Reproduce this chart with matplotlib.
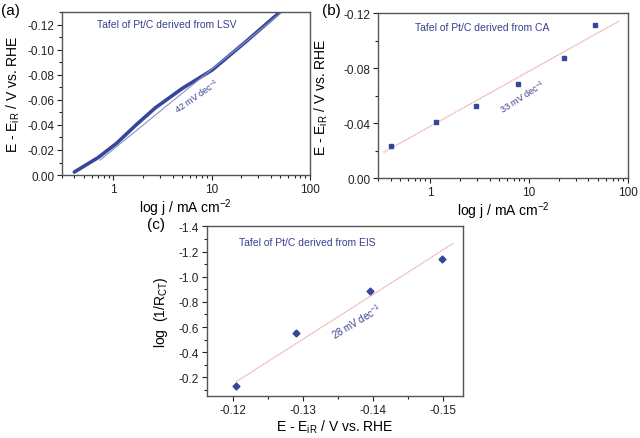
import matplotlib
matplotlib.use("Agg")
import matplotlib.pyplot as plt
from matplotlib import font_manager
from matplotlib.ticker import FixedLocator, MultipleLocator, FuncFormatter, LogLocator, NullFormatter

plt.rcParams['font.family'] = ['Liberation Sans', 'DejaVu Sans']
plt.rcParams['mathtext.fontset'] = 'custom'

names = set(f.name for f in font_manager.fontManager.ttflist)
label_font = 'Liberation Sans Narrow' if 'Liberation Sans Narrow' in names else 'Liberation Sans'
label_size = 12 if label_font == 'Liberation Sans Narrow' else 10
plt.rcParams['mathtext.rm'] = label_font
plt.rcParams['mathtext.it'] = label_font

# (a) LSV polarization curve
lsv_j = [0.40, 0.7, 1.08, 1.7, 2.68, 5.0, 10.2, 22.0, 48.0]
lsv_e = [-0.0024, -0.014, -0.0254, -0.040, -0.0537, -0.069, -0.084, -0.106, -0.129]
fit_a_j = [0.73, 53.0]
fit_a_e = [-0.0119, -0.1305]

# (b) chronoamperometry points
ca_j = [0.40, 1.14, 2.89, 7.84, 22.6, 47.1]
ca_e = [-0.0237, -0.0408, -0.0524, -0.0686, -0.0874, -0.1117]
fit_b_j = [0.34, 82.0]
fit_b_e = [-0.0188, -0.1146]

# (c) EIS points
eis_e = [-0.1204, -0.129, -0.1395, -0.1498]
eis_logr = [-0.128, -0.555, -0.883, -1.141]
fit_c_e = [-0.1204, -0.1515]
fit_c_logr = [-0.165, -1.267]

blue = '#34479a'
text_blue = '#3a3f8f'
pink = '#e6a3a3'
spine_col = '#555555'

fig = plt.figure(figsize=(6.4, 4.39), dpi=100)

def style(ax):
    for s in ax.spines.values():
        s.set_color(spine_col)
        s.set_linewidth(1.0)
    ax.tick_params(which='both', direction='out', labelsize=8.5, colors='#222222', width=0.8, pad=2)
    ax.tick_params(which='major', length=3.5)
    ax.tick_params(which='minor', length=2)

def log_axis(ax):
    ax.set_xscale('log')
    ax.set_xlim(0.3, 100)
    ax.xaxis.set_major_locator(FixedLocator([1, 10, 100]))
    ax.xaxis.set_major_formatter(FuncFormatter(lambda v, p: '%g' % v))
    ax.xaxis.set_minor_locator(LogLocator(base=10, subs=range(2, 10)))
    ax.xaxis.set_minor_formatter(NullFormatter())
    ax.set_xlabel(r'log j / mA cm$^{-2}$', fontsize=label_size, family=label_font, labelpad=1)

ylab = r'E - E$_{\mathrm{iR}}$ / V vs. RHE'

# panel a
ax1 = fig.add_axes([0.097, 0.599, 0.387, 0.371])
style(ax1)
log_axis(ax1)
ax1.plot(lsv_j, lsv_e, color=blue, lw=2.6, solid_capstyle='round')
ax1.plot(fit_a_j, fit_a_e, color='#8a93c0', lw=0.8)
ax1.set_ylim(0, -0.13)
ax1.yaxis.set_major_locator(MultipleLocator(0.02))
ax1.yaxis.set_minor_locator(MultipleLocator(0.01))
ax1.yaxis.set_major_formatter(FuncFormatter(lambda v, p: '%.2f' % v if abs(v) > 1e-9 else '0.00'))
ax1.set_ylabel(ylab, fontsize=label_size, family=label_font, labelpad=4)
ax1.text(0.141, 0.93, 'Tafel of Pt/C derived from LSV', transform=ax1.transAxes,
         fontsize=7.5, color=text_blue, va='center')
ax1.text(0.545, 0.49, r'42 mV dec$^{-1}$', transform=ax1.transAxes, fontsize=6.5,
         color=text_blue, rotation=35, ha='center', va='center')
fig.text(0.002, 0.975, '(a)', fontsize=11, va='center')

# panel b
ax2 = fig.add_axes([0.591, 0.592, 0.390, 0.375])
style(ax2)
log_axis(ax2)
ax2.plot(fit_b_j, fit_b_e, color=pink, lw=0.9, ls=(0, (1, 0.6)))
ax2.plot(ca_j, ca_e, 's', color=blue, ms=3.5)
ax2.set_ylim(0, -0.12)
ax2.yaxis.set_major_locator(MultipleLocator(0.04))
ax2.yaxis.set_minor_locator(MultipleLocator(0.02))
ax2.yaxis.set_major_formatter(FuncFormatter(lambda v, p: '%.2f' % v if abs(v) > 1e-9 else '0.00'))
ax2.set_ylabel(ylab, fontsize=label_size, family=label_font, labelpad=10)
ax2.text(0.148, 0.917, 'Tafel of Pt/C derived from CA', transform=ax2.transAxes,
         fontsize=7.5, color=text_blue, va='center')
ax2.text(0.58, 0.50, r'33 mV dec$^{-1}$', transform=ax2.transAxes, fontsize=6.5,
         color=text_blue, rotation=33, ha='center', va='center')
fig.text(0.503, 0.975, '(b)', fontsize=11, va='center')

# panel c
ax3 = fig.add_axes([0.323, 0.095, 0.401, 0.387])
style(ax3)
ax3.plot(fit_c_e, fit_c_logr, color=pink, lw=0.9, ls=(0, (1, 0.6)))
ax3.plot(eis_e, eis_logr, 'D', color=blue, ms=3.5)
ax3.set_xlim(-0.1162, -0.1529)
ax3.set_ylim(-0.05, -1.4)
ax3.xaxis.set_major_locator(MultipleLocator(0.01))
ax3.xaxis.set_minor_locator(MultipleLocator(0.005))
ax3.xaxis.set_major_formatter(FuncFormatter(lambda v, p: '%.2f' % v))
ax3.yaxis.set_major_locator(MultipleLocator(0.2))
ax3.yaxis.set_minor_locator(MultipleLocator(0.1))
ax3.yaxis.set_major_formatter(FuncFormatter(lambda v, p: '%.1f' % v))
ax3.set_xlabel(r'E - E$_{\mathrm{iR}}$ / V vs. RHE', fontsize=label_size, family=label_font, labelpad=1)
ax3.set_ylabel(r'log  (1/R$_{\mathrm{CT}}$)', fontsize=label_size, family=label_font, labelpad=6)
ax3.text(0.127, 0.906, 'Tafel of Pt/C derived from EIS', transform=ax3.transAxes,
         fontsize=7.5, color=text_blue, va='center')
ax3.text(0.585, 0.445, r'28 mV dec$^{-1}$', transform=ax3.transAxes, fontsize=7,
         color=text_blue, rotation=31, ha='center', va='center')
fig.text(0.229, 0.487, '(c)', fontsize=11, va='center')

fig.savefig('out.png', dpi=100)
